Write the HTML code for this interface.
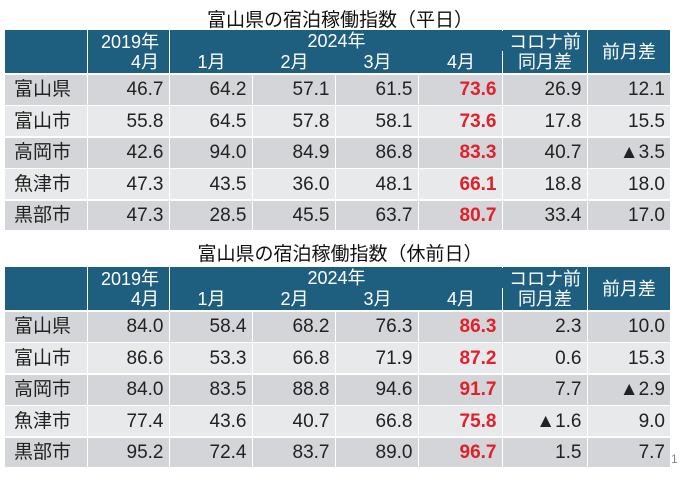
<!DOCTYPE html>
<html><head><meta charset="utf-8"><style>
body{margin:0;width:680px;height:487px;background:#fff;position:relative;overflow:hidden;font-family:"Liberation Sans","Noto Sans CJK JP",sans-serif;}
.c{position:absolute;box-sizing:border-box;font-size:19px;line-height:1;color:#222;display:flex;align-items:center;}
.t{position:absolute;left:0;width:680px;text-align:center;font-size:19px;color:#111;}
.h{background:#1e5f80;color:#fff;font-size:18px;}
</style></head><body>
<div class="t" style="top:5px">富山県の宿泊稼働指数（平日）</div>
<div class="t" style="top:239px">富山県の宿泊稼働指数（休前日）</div>
<div style="position:absolute;left:671px;top:452px;font-size:12px;color:#888">1</div>
<script>
const rowsNames=["富山県","富山市","高岡市","魚津市","黒部市"];
const weekday=[
["46.7","64.2","57.1","61.5","73.6","26.9","12.1"],
["55.8","64.5","57.8","58.1","73.6","17.8","15.5"],
["42.6","94.0","84.9","86.8","83.3","40.7","▲3.5"],
["47.3","43.5","36.0","48.1","66.1","18.8","18.0"],
["47.3","28.5","45.5","63.7","80.7","33.4","17.0"]];
const holiday=[
["84.0","58.4","68.2","76.3","86.3","2.3","10.0"],
["86.6","53.3","66.8","71.9","87.2","0.6","15.3"],
["84.0","83.5","88.8","94.6","91.7","7.7","▲2.9"],
["77.4","43.6","40.7","66.8","75.8","▲1.6","9.0"],
["95.2","72.4","83.7","89.0","96.7","1.5","7.7"]];
const colX=[5,88,170,253,336,419,503,588,670];
function cell(x,y,w,h,txt,cls,name,style){
 const d=document.createElement('div');d.className='c '+(cls||'');
 d.style.left=x+'px';d.style.top=y+'px';d.style.width=w+'px';d.style.height=h+'px';
 if(style)Object.assign(d.style,style);
 d.innerHTML=txt;
 
 
 document.body.appendChild(d);return d;}
function table(top,data,prefix){
 const hh=43;
 cell(colX[0],top,colX[1]-colX[0]-1,hh,'','h',prefix+'-header-corner');
 cell(colX[1],top,colX[2]-colX[1]-1,hh,'<div style="width:100%;text-align:right;padding-right:10px;line-height:20px">2019年<br>4月</div>','h',prefix+'-header-2019');
 cell(colX[2],top,colX[6]-colX[2]-1,hh,'','h',prefix+'-header-2024');
 cell(colX[2],top+1,colX[6]-colX[2],20,'2024年','h',prefix+'-header-2024-label',{justifyContent:'center'});
 ['1月','2月','3月','4月'].forEach((m,i)=>cell(colX[2+i],top+22,colX[3+i]-colX[2+i],20,m,'h',prefix+'-header-month-'+(i+1),{justifyContent:'center',background:'transparent'}));
 cell(colX[6],top,colX[7]-colX[6]-1,hh,'<div style="width:100%;text-align:center;line-height:20px">コロナ前<br>同月差</div>','h',prefix+'-header-vs-precovid');
 cell(colX[7],top,colX[8]-colX[7],hh,'前月差','h',prefix+'-header-mom',{justifyContent:'center'});
 const rh=31.4;
 data.forEach((r,i)=>{
  const y=top+hh+2+i*rh, bg=i%2==0?'#d3d5d8':'#e8e9ea';
  cell(colX[0],y,colX[1]-colX[0]-1,rh-1.5,rowsNames[i],'',prefix+'-row-label-'+(i+1),{background:bg,paddingLeft:'9px',fontSize:'19px'});
  r.forEach((v,j)=>{
   const red=j==4;
   const txt=v.startsWith('▲')?'<span style="font-size:19px">▲</span>'+v.slice(1):v;
   cell(colX[j+1],y,colX[j+2]-colX[j+1]-(j==6?0:1.5),rh-1.5,txt,'',prefix+'-cell-'+(i+1)+'-'+(j+1),{background:bg,justifyContent:'flex-end',paddingRight:'5px',color:red?'#e0202a':'#222',fontWeight:red?'bold':'normal'});
  });
 });
}
table(30,weekday,'weekday');
table(267,holiday,'holiday');
</script>
</body></html>
